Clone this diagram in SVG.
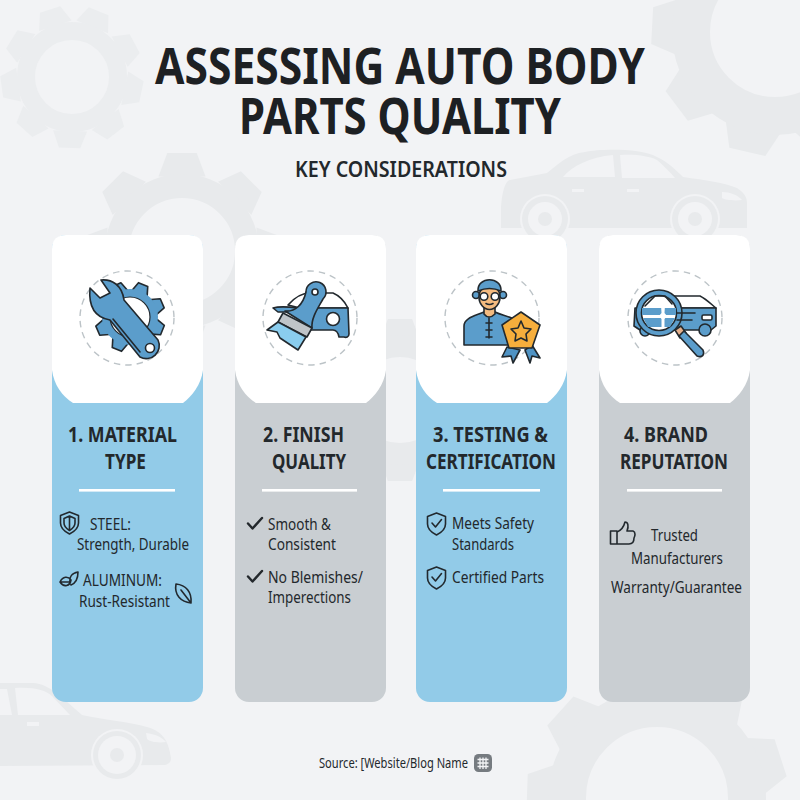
<svg xmlns="http://www.w3.org/2000/svg" xmlns:xlink="http://www.w3.org/1999/xlink" width="800" height="800" viewBox="0 0 800 800">
<style>
.bg{fill:#e8eaec}
.ln{stroke:#22292e;stroke-width:1.6;stroke-linejoin:round;stroke-linecap:round}
.ol{fill:none;stroke:#22292e;stroke-width:1.6;stroke-linejoin:round;stroke-linecap:round}
.blue{fill:#5b9dcb}
.dash{fill:#fff;stroke:#bcc3c7;stroke-width:1.4;stroke-dasharray:6.5 5}
text{font-family:"Noto Sans","Liberation Sans",sans-serif;fill:#23282c}
.ti{font-size:50px;font-weight:700;fill:#1d2023}
.sub{font-size:21px;font-weight:600}
.h{font-size:21px;font-weight:700}
.b{font-size:16px;font-weight:400}
.src{font-size:15px}
.rule{fill:#fff}
</style>
<defs>
<path id="tooth" d="M-.24 -.76 L-.15 -1 H.15 L.24 -.76 Z"/>
<g id="g8"><use xlink:href="#tooth"/><use xlink:href="#tooth" transform="rotate(45)"/><use xlink:href="#tooth" transform="rotate(90)"/><use xlink:href="#tooth" transform="rotate(135)"/><use xlink:href="#tooth" transform="rotate(180)"/><use xlink:href="#tooth" transform="rotate(225)"/><use xlink:href="#tooth" transform="rotate(270)"/><use xlink:href="#tooth" transform="rotate(315)"/></g>
<g id="g9"><use xlink:href="#tooth"/><use xlink:href="#tooth" transform="rotate(40)"/><use xlink:href="#tooth" transform="rotate(80)"/><use xlink:href="#tooth" transform="rotate(120)"/><use xlink:href="#tooth" transform="rotate(160)"/><use xlink:href="#tooth" transform="rotate(200)"/><use xlink:href="#tooth" transform="rotate(240)"/><use xlink:href="#tooth" transform="rotate(280)"/><use xlink:href="#tooth" transform="rotate(320)"/></g>
<path id="it" d="M-8 -26 L-5 -35 H5 L8 -26 Z"/>
<path id="shield" d="M0 0 L9 3.5 V11 C9 17 4 20 0 22 C-4 20 -9 17 -9 11 V3.5 Z"/>
<path id="check" d="M0 5.5 L4.5 10.5 L14 0" fill="none" stroke="#23282c" stroke-width="2.4" stroke-linecap="round" stroke-linejoin="round"/>
</defs>
<rect width="800" height="800" fill="#f2f3f5"/>
<g id="background">
<g fill="#ebedef"><use xlink:href="#g9" transform="translate(72 77) rotate(-18) scale(71)"/></g>
<circle cx="72" cy="77" r="46" fill="none" stroke="#ebedef" stroke-width="18"/>
<g class="bg"><use xlink:href="#g8" transform="translate(182 251) scale(98)"/></g>
<circle cx="182" cy="251" r="65" fill="none" stroke="#e8eaec" stroke-width="24"/>
<g class="bg"><use xlink:href="#g9" transform="translate(775 32) rotate(33) scale(123)"/></g>
<circle cx="775" cy="32" r="84" fill="none" stroke="#e8eaec" stroke-width="38"/>
<g class="bg"><use xlink:href="#g9" transform="translate(657 798) rotate(-8) scale(130)"/></g>
<circle cx="657" cy="798" r="90" fill="none" stroke="#e8eaec" stroke-width="38"/>
<g class="bg"><use xlink:href="#g8" transform="translate(400 400) scale(81)"/></g>
<circle cx="400" cy="400" r="54" fill="none" stroke="#e8eaec" stroke-width="22"/>
<path class="bg" d="M501 207 C502 192 505 181 510 180 L547 173 C560 163 568 154 585 152 C600 149 640 148 657 157 C668 162 676 170 683 177 C705 180 725 183 737 188 C745 193 747 198 747 203 V228 H501 Z"/>
<path fill="#f2f3f5" d="M563 177 C572 166 590 157 613 155 L615 177 Z M620 155 C635 154 650 156 657 160 C663 165 670 172 675 178 H622 Z M572 189 h12 v3 h-12 Z M627 189 h12 v3 h-12 Z M722 192 C730 192 738 195 742 200 C734 201 725 200 722 198 Z"/>
<circle cx="545" cy="219" r="25" fill="#f2f3f5"/><circle cx="545" cy="219" r="23" fill="#e8eaec"/><circle cx="545" cy="219" r="17" fill="#f2f3f5"/><circle cx="545" cy="219" r="7" fill="#e8eaec"/>
<circle cx="695" cy="219" r="25" fill="#f2f3f5"/><circle cx="695" cy="219" r="23" fill="#e8eaec"/><circle cx="695" cy="219" r="17" fill="#f2f3f5"/><circle cx="695" cy="219" r="7" fill="#e8eaec"/>
<path class="bg" d="M0 683 H33 C50 684 62 698 82 715 C105 720 130 722 147 727 C160 731 168 737 171 758 C171 762 169 764 165 765 L0 766 Z"/>
<path fill="#f2f3f5" d="M0 689 H7 L12 715 H0 Z M15 688 C35 687 45 690 52 696 L70 715 H18 Z M27 722 h12 v4 h-12 Z M146 733 C155 734 162 737 166 742 C158 743 150 742 147 739 Z"/>
<circle cx="117" cy="755" r="26" fill="#f2f3f5"/><circle cx="117" cy="755" r="24" fill="#e8eaec"/><circle cx="117" cy="755" r="19" fill="#f2f3f5"/><circle cx="117" cy="755" r="7" fill="#e8eaec"/>
</g>
<g id="title">
<text class="ti" x="155" y="84" textLength="490" lengthAdjust="spacingAndGlyphs">ASSESSING AUTO BODY</text>
<text class="ti" x="239" y="134" textLength="322" lengthAdjust="spacingAndGlyphs">PARTS QUALITY</text>
<text class="sub" x="295" y="177" textLength="212" lengthAdjust="spacingAndGlyphs">KEY CONSIDERATIONS</text>
</g>
<g id="connectors"/>
<g id="node-1">
<rect x="52" y="235" width="151" height="467" rx="14" fill="#92cbe8"/>
<path fill="#fff" d="M52 249 Q52 235 66 235 H189 Q203 235 203 249 V370 C201 385 192 396 183 403 H73 C62 396 54 385 52 370 Z"/>
<circle class="dash" cx="127" cy="318" r="47"/>
<g class="blue ln" transform="translate(130 317) rotate(22)"><use xlink:href="#it"/><use xlink:href="#it" transform="rotate(45)"/><use xlink:href="#it" transform="rotate(90)"/><use xlink:href="#it" transform="rotate(135)"/><use xlink:href="#it" transform="rotate(180)"/><use xlink:href="#it" transform="rotate(225)"/><use xlink:href="#it" transform="rotate(270)"/><use xlink:href="#it" transform="rotate(315)"/></g>
<circle class="blue" cx="130" cy="317" r="28"/>
<circle cx="130" cy="317" r="20" fill="#fff" stroke="#22292e" stroke-width="1.2"/>
<path class="blue ln" d="M101 280 C112 279 122 285 124 300 L158 340 A13 13 0 0 1 140 357 L110 320 C98 318 88 310 90 288 L100 298 L110 293 Z"/>
<path class="ol" d="M113 319 L140 352"/>
<circle cx="150" cy="348" r="4.500" fill="#fff" class="ln"/>
<text class="h" x="68" y="442" textLength="109" lengthAdjust="spacingAndGlyphs">1. MATERIAL</text>
<text class="h" x="105" y="469" textLength="41" lengthAdjust="spacingAndGlyphs">TYPE</text>
<rect class="rule" x="79" y="489" width="96" height="2.600"/>
<use xlink:href="#shield" class="ol" transform="translate(69.500 512)"/>
<path class="ol" d="M69.500 516 L75 518.500 V523 C75 527 72 529 69.500 530.500 C67 529 64 527 64 523 V518.500 Z M69.500 516 V530"/>
<text class="b" x="90" y="530" textLength="41" lengthAdjust="spacingAndGlyphs">STEEL:</text>
<text class="b" x="77" y="550" textLength="112" lengthAdjust="spacingAndGlyphs">Strength, Durable</text>
<path class="ol" d="M60 582 C63 576 68 576 71 580 C70 586 64 588 60 582 Z M60 582 H70 M70 584 C69 576 72 573 78 572 C78 578 76 583 71 585"/>
<text class="b" x="83" y="586" textLength="79" lengthAdjust="spacingAndGlyphs">ALUMINUM:</text>
<text class="b" x="79" y="607" textLength="91" lengthAdjust="spacingAndGlyphs">Rust-Resistant</text>
<path class="ol" d="M176 584 C186 585 192 592 191 603 C181 602 174 595 176 584 Z M181 590 L191 603"/>
</g>
<g id="node-2">
<rect x="235" y="235" width="151" height="467" rx="14" fill="#c9ced2"/>
<path fill="#fff" d="M235 249 Q235 235 249 235 H372 Q386 235 386 249 V370 C384 385 375 396 366 403 H256 C245 396 237 385 235 370 Z"/>
<circle class="dash" cx="310" cy="318" r="47"/>
<path fill="#fff" class="ln" d="M288 305 C295 297 302 293 310 293 H333 C340 296 345 302 348 308 H300 Z"/>
<path class="blue ln" d="M307 308 H348 L349 334 C349 337 346 338 344 337 H339 C338 332 336 330 333 330 H310 Z"/>
<circle cx="333" cy="319" r="6.500" fill="#fff" class="ln"/>
<path class="blue ln" d="M273 308 C280 306 290 307 298 308 L296 312 H278 Z"/>
<path class="blue ln" d="M285 311 C295 312 303 305 306 292 A10 10 0 1 1 323 299 C318 308 311 318 312 328 Z"/>
<circle cx="315" cy="292" r="3" fill="#fff" class="ln"/>
<path class="ln" fill="#bfc4c8" d="M283 313 L312 328 L307 337 L278 322 Z"/>
<path class="ln" fill="#8acdee" d="M278 322 L306 337 L298 350 L280 338 L277 332 L267 330 Z"/>
<text class="h" x="263" y="442" textLength="81" lengthAdjust="spacingAndGlyphs">2. FINISH</text>
<text class="h" x="272" y="469" textLength="74" lengthAdjust="spacingAndGlyphs">QUALITY</text>
<rect class="rule" x="262" y="489" width="95" height="2.600"/>
<use xlink:href="#check" transform="translate(248 518)"/>
<text class="b" x="268" y="530" textLength="63" lengthAdjust="spacingAndGlyphs">Smooth &amp;</text>
<text class="b" x="268" y="550" textLength="68" lengthAdjust="spacingAndGlyphs">Consistent</text>
<use xlink:href="#check" transform="translate(248 571)"/>
<text class="b" x="268" y="583" textLength="95" lengthAdjust="spacingAndGlyphs">No Blemishes/</text>
<text class="b" x="268" y="603" textLength="83" lengthAdjust="spacingAndGlyphs">Imperections</text>
</g>
<g id="node-3">
<rect x="416" y="235" width="151" height="467" rx="14" fill="#92cbe8"/>
<path fill="#fff" d="M416 249 Q416 235 430 235 H553 Q567 235 567 249 V370 C565 385 556 396 547 403 H437 C426 396 418 385 416 370 Z"/>
<circle class="dash" cx="492" cy="318" r="47"/>
<circle cx="476" cy="295" r="3.500" fill="#5b9dcb" class="ln"/><circle cx="503" cy="295" r="3.500" fill="#5b9dcb" class="ln"/>
<path class="blue ln" d="M464 345 V326 C464 318 475 316 484 312 H495 C503 316 512 316 518 322 L512 345 Z"/>
<path fill="#f4bb80" class="ln" d="M484 305 V314 C487 318 491 318 495 314 V305 Z"/>
<ellipse cx="489.500" cy="297" rx="10.500" ry="12.500" fill="#f4bb80" class="ln"/>
<path class="blue ln" d="M478 291 C477 276 502 276 501 291 C494 288 485 288 478 291 Z"/>
<circle cx="484" cy="296.500" r="3.800" fill="#fff" class="ln"/><circle cx="495" cy="296.500" r="3.800" fill="#fff" class="ln"/>
<path class="ol" d="M486 303.500 Q489.500 305.500 493 303.500 M489 318 V338 M486 323 H492 M486 330 H492 M486 337 H492"/>
<path class="ln" fill="#4f93c4" d="M507 347 L502 357 L511 356 L513 363 L520 350 Z M525 350 L530 363 L532 356 L540 358 L532 345 Z"/>
<path class="ln" fill="#f6ae3c" d="M521 312 L540 325 L532 348 L509 348 L502 325 Z"/>
<path class="ln" fill="#f6ae3c" d="M521 321 L524 328 L531 329 L526 334 L527 341 L521 338 L515 341 L516 334 L511 329 L518 328 Z"/>
<text class="h" x="433" y="442" textLength="115" lengthAdjust="spacingAndGlyphs">3. TESTING &amp;</text>
<text class="h" x="426" y="469" textLength="130" lengthAdjust="spacingAndGlyphs">CERTIFICATION</text>
<rect class="rule" x="443" y="489" width="97" height="2.600"/>
<use xlink:href="#shield" class="ol" transform="translate(436.500 513)"/>
<path class="ol" d="M432 523 L435.500 527 L441.500 519.500"/>
<text class="b" x="452" y="529" textLength="82" lengthAdjust="spacingAndGlyphs">Meets Safety</text>
<text class="b" x="452" y="550" textLength="62" lengthAdjust="spacingAndGlyphs">Standards</text>
<use xlink:href="#shield" class="ol" transform="translate(436.500 567)"/>
<path class="ol" d="M432 577 L435.500 581 L441.500 573.500"/>
<text class="b" x="452" y="583" textLength="92" lengthAdjust="spacingAndGlyphs">Certified Parts</text>
</g>
<g id="node-4">
<rect x="599" y="235" width="151" height="467" rx="14" fill="#c9ced2"/>
<path fill="#fff" d="M599 249 Q599 235 613 235 H736 Q750 235 750 249 V370 C748 385 739 396 730 403 H620 C609 396 601 385 599 370 Z"/>
<circle class="dash" cx="675" cy="318" r="47"/>
<path fill="#fff" class="ln" d="M660 296 H700 C706 299 711 304 716 308 H660 Z"/>
<path class="blue ln" d="M635 308 H716 V326 L711 330 H640 L634 326 Z"/>
<circle class="blue ln" cx="705" cy="330" r="6"/>
<circle class="blue ln" cx="645" cy="331" r="5"/>
<rect x="702" y="315" width="10" height="5" rx="1.500" fill="#fff" class="ln"/>
<path class="ln" fill="#e5b08c" d="M675 330 L681 326 L686 333 L680 338 Z"/>
<path class="blue ln" d="M679 336 L684 331 L703 350 C705 355 702 358 697 356 Z"/>
<circle class="blue ln" cx="659" cy="313" r="23"/>
<circle cx="659" cy="313" r="17.500" fill="#fff" class="ln"/>
<path fill="#5b9dcb" d="M642 308 H676 V315 H642 Z M643 318 H675 L670 327 H648 Z"/>
<path class="ol" d="M645 306 L655 296 H665 L672 304"/>
<path fill="#fff" d="M661 305 H665 L664.500 313 L667 316 L664.500 319 V328 H661.500 V319 L659 316 L661.500 313 Z"/>
<path class="ol" d="M677 313 H695 M677 320 H692"/>
<text class="h" x="624" y="442" textLength="84" lengthAdjust="spacingAndGlyphs">4. BRAND</text>
<text class="h" x="620" y="469" textLength="108" lengthAdjust="spacingAndGlyphs">REPUTATION</text>
<rect class="rule" x="627" y="489" width="95" height="2.600"/>
<path class="ol" d="M610.500 531 H617 V544 H610.500 Z M617 532 C622 530 624 526 625 522 C628 522 629 526 627 531 H633 C636 532 635 536 634 538 C634 542 632 544 629 544 H617"/>
<text class="b" x="651" y="541" textLength="47" lengthAdjust="spacingAndGlyphs">Trusted</text>
<text class="b" x="631" y="564" textLength="92" lengthAdjust="spacingAndGlyphs">Manufacturers</text>
<text class="b" x="611" y="593" textLength="131" lengthAdjust="spacingAndGlyphs">Warranty/Guarantee</text>
</g>
<g id="source">
<text class="src" x="319" y="768" textLength="149" lengthAdjust="spacingAndGlyphs">Source: [Website/Blog Name</text>
<rect x="474" y="754" width="18" height="18" rx="4.500" fill="#767b80"/>
<path d="M477.500 759.500 H488.500 M477.500 763 H488.500 M477.500 766.500 H488.500 M480 757.500 V769 M483 757.500 V769 M486 757.500 V769" stroke="#f2f3f5" stroke-width="1.300" fill="none"/>
</g>
</svg>
